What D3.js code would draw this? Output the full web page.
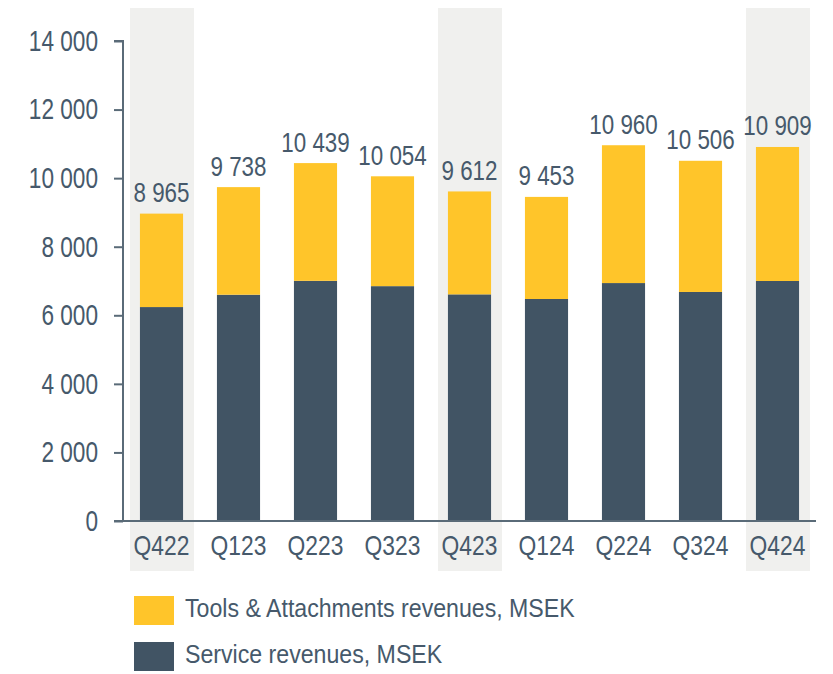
<!DOCTYPE html>
<html>
<head>
<meta charset="utf-8">
<script src="https://cdn.jsdelivr.net/npm/d3@7"></script>
<style>
  html, body { margin: 0; padding: 0; background: #fff; }
  svg { display: block; }
  text { font-family: "Liberation Sans", Arial, sans-serif; fill: #46596b; }
</style>
</head>
<body>
<svg id="chart" width="833" height="674"></svg>
<script>
const categories = ["Q422","Q123","Q223","Q323","Q423","Q124","Q224","Q324","Q424"];
const totals = [8965, 9738, 10439, 10054, 9612, 9453, 10960, 10506, 10909];
const service = [6240, 6600, 7005, 6850, 6610, 6475, 6940, 6680, 7000];
const highlighted = ["Q422","Q423","Q424"];
const yTicks = [0, 2000, 4000, 6000, 8000, 10000, 12000, 14000];
const seriesNames = ["Tools & Attachments revenues, MSEK", "Service revenues, MSEK"];

const colors = { tools: "#ffc52a", service: "#415464", shade: "#f0f0ee", axis: "#5a6b78" };
const fmt = v => d3.format(",")(v).replace(/,/g, " ");

const svg = d3.select("#chart");
const x = d3.scaleBand().domain(categories).range([123, 816]).paddingInner(0.44).paddingOuter(0.22);
const y = d3.scaleLinear().domain([0, 14000]).range([521, 41]);

// highlight shading
svg.append("g").selectAll("rect").data(highlighted).join("rect")
  .attr("x", d => x(d) + x.bandwidth()/2 - 31.5)
  .attr("width", 64)
  .attr("y", 8)
  .attr("height", 563)
  .attr("fill", colors.shade);

const data = categories.map((c, i) => ({ c, total: totals[i], service: service[i], tools: totals[i] - service[i] }));

// service bars
svg.append("g").selectAll("rect").data(data).join("rect")
  .attr("x", d => x(d.c)).attr("width", x.bandwidth())
  .attr("y", d => y(d.service)).attr("height", d => y(0) - y(d.service))
  .attr("fill", colors.service);
// tools bars
svg.append("g").selectAll("rect").data(data).join("rect")
  .attr("x", d => x(d.c)).attr("width", x.bandwidth())
  .attr("y", d => y(d.total)).attr("height", d => y(d.service) - y(d.total))
  .attr("fill", colors.tools);

// value labels (condensed)
const VS = 0.8;
svg.append("g").selectAll("text").data(data).join("text")
  .attr("transform", d => `translate(${x(d.c) + x.bandwidth()/2},${y(d.total) - 11.5}) scale(${VS},1)`)
  .attr("text-anchor", "middle")
  .style("font-size", "28px")
  .text(d => fmt(d.total));

// y axis
const YS = 0.78;
const yAxis = d3.axisLeft(y).tickValues(yTicks).tickFormat(fmt).tickSize(9).tickPadding(16);
const gy = svg.append("g").attr("transform", "translate(123,0)").call(yAxis);
gy.select(".domain").attr("stroke", colors.axis).attr("stroke-width", 2).attr("d", `M-9,${y(14000)}H0V${y(0)}`);
gy.selectAll(".tick line").attr("stroke", colors.axis).attr("stroke-width", 2);
gy.selectAll(".tick text")
  .style("font-size", "29px").attr("fill", "#46596b").style("font-family", null)
  .attr("x", -25 / YS).attr("transform", `scale(${YS},1)`);

// x axis
const XS = 0.83;
const xAxis = d3.axisBottom(x).tickSize(0).tickPadding(14);
const gx = svg.append("g").attr("transform", `translate(0,${y(0)})`).call(xAxis);
gx.select(".domain").attr("stroke", colors.axis).attr("stroke-width", 2).attr("d", `M114,0H816`);
gx.selectAll(".tick text")
  .style("font-size", "27.5px").attr("fill", "#46596b").style("font-family", null)
  .attr("transform", `scale(${XS},1)`);

// legend
const LS = 0.89;
const legend = svg.append("g");
const legendColors = [colors.tools, colors.service];
seriesNames.forEach((name, i) => {
  const g = legend.append("g").attr("transform", `translate(134,${596 + i * 46})`);
  g.append("rect").attr("width", 40).attr("height", 29).attr("fill", legendColors[i]);
  g.append("text").attr("transform", `translate(51,21) scale(${LS},1)`).style("font-size", "26px").text(name);
});
</script>
</body>
</html>
